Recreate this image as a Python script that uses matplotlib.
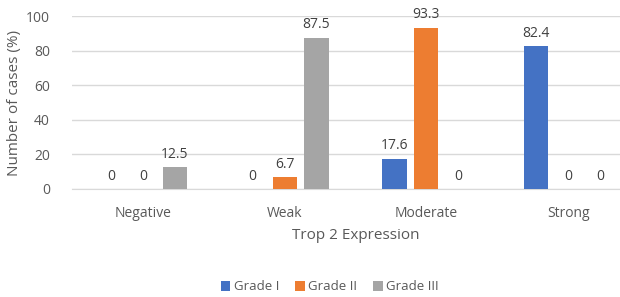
import matplotlib
matplotlib.use("Agg")
import matplotlib.pyplot as plt
import numpy as np

plt.rcParams["font.family"] = ["Open Sans", "DejaVu Sans"]

categories = ["Negative", "Weak", "Moderate", "Strong"]
series_names = ["Grade I", "Grade II", "Grade III"]
grade_1 = [0, 0, 17.6, 82.4]
grade_2 = [0, 6.7, 93.3, 0]
grade_3 = [12.5, 87.5, 0, 0]
y_ticks = [0, 20, 40, 60, 80, 100]

colors = ["#4472C4", "#ED7D31", "#A5A5A5"]
text_color = "#595959"

fig = plt.figure(figsize=(6.2, 2.97), dpi=100)
# plot area runs past the right edge, as in the cropped original
ax = fig.add_axes([72 / 620, 1 - 189 / 297, 567 / 620, 173 / 297])

x = np.arange(len(categories))
step = 0.225
width = 0.17
for i, (vals, name, col) in enumerate(zip([grade_1, grade_2, grade_3], series_names, colors)):
    pos = x + (i - 1) * step
    ax.bar(pos, vals, width=width, color=col, label=name, zorder=3)
    for px, v in zip(pos, vals):
        ax.text(px, v + 3, f"{v:g}", ha="center", va="bottom",
                fontsize=10, color="#404040")

ax.set_xlim(-0.5, 3.5)
ax.set_ylim(0, 100)
ax.set_yticks(y_ticks)
ax.set_xticks(x)
ax.set_xticklabels(categories)
ax.tick_params(axis="both", length=0, colors=text_color, labelsize=10)
ax.tick_params(axis="x", pad=12)
ax.tick_params(axis="y", pad=16)
ax.yaxis.grid(True, color="#D9D9D9", linewidth=1, zorder=0)
for side in ["top", "right", "left"]:
    ax.spines[side].set_visible(False)
ax.spines["bottom"].set_color("#D9D9D9")

ax.set_ylabel("Number of cases (%)", fontsize=11, color=text_color, labelpad=3)
ax.set_xlabel("Trop 2 Expression", fontsize=11, color=text_color, labelpad=5)

handles, labels = ax.get_legend_handles_labels()
fig.legend(handles, labels, loc="center", bbox_to_anchor=(330 / 620, 1 - 287 / 297),
           ncol=3, frameon=False, fontsize=9.5, labelcolor=text_color,
           handlelength=0.7, handleheight=0.7, handletextpad=0.3, columnspacing=1.2)

fig.savefig("out.png", dpi=100)
